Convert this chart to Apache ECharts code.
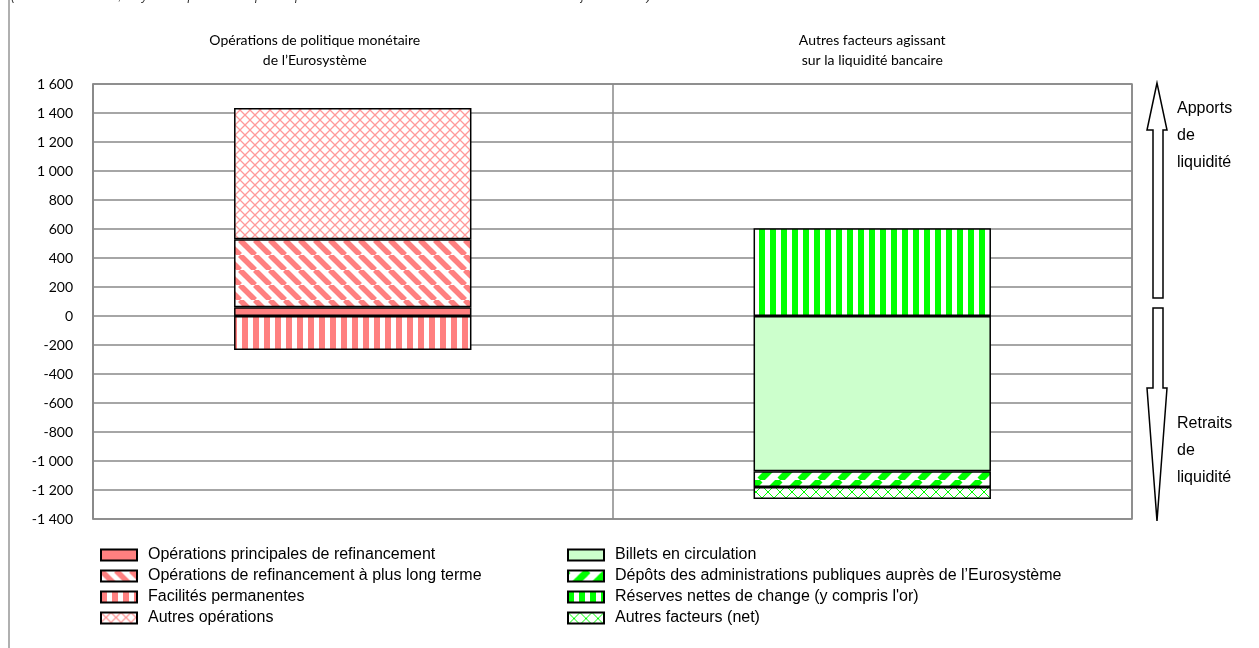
<!DOCTYPE html>
<html>
<head>
<meta charset="utf-8">
<script src="https://cdn.jsdelivr.net/npm/echarts@6/dist/echarts.min.js"></script>
<style>
  html, body { margin: 0; padding: 0; background: #fff; }
  #chart { width: 1259px; height: 648px; }
</style>
</head>
<body>
<div id="chart"></div>
<script>
// categories (top labels)
const categories = [
  'Opérations de politique monétaire\nde l\u2019Eurosystème',
  'Autres facteurs agissant\nsur la liquidité bancaire'
]
const yTicks = { min: -1400, max: 1600, interval: 200 }

// values in EUR bn ('-' = no bar in that column)
const mro = [60, '-']           // Opérations principales de refinancement
const ltro = [470, '-']         // Opérations de refinancement à plus long terme
const standing = [-235, '-']    // Facilités permanentes
const otherOps = [905, '-']     // Autres opérations
const banknotes = ['-', -1070]  // Billets en circulation
const govDeposits = ['-', -110] // Dépôts des administrations publiques
const fxReserves = ['-', 605]   // Réserves nettes de change
const otherFactors = ['-', -82] // Autres facteurs (net)

const RED = '#ff8080'
const GREEN = '#00ff00'

function pattern(w, h, draw) {
  const c = document.createElement('canvas')
  c.width = w
  c.height = h
  const ctx = c.getContext('2d')
  ctx.fillStyle = '#fff'
  ctx.fillRect(0, 0, w, h)
  draw(ctx, w, h)
  return { image: c, repeat: 'repeat' }
}
function vstripes(color, p, t) {
  return pattern(p, p, (ctx, w, h) => { ctx.fillStyle = color; ctx.fillRect(0, 0, t, h) })
}
function diag(color, p, t, down) {
  return pattern(p, p, (ctx) => {
    ctx.strokeStyle = color
    ctx.lineWidth = t
    for (let k = -1; k <= 1; k++) {
      ctx.beginPath()
      if (down) { ctx.moveTo(k * p, 0); ctx.lineTo(k * p + p, p) }
      else { ctx.moveTo(k * p + p, 0); ctx.lineTo(k * p, p) }
      ctx.stroke()
    }
  })
}
function lattice(color, p, lw) {
  return pattern(p, p, (ctx) => {
    ctx.strokeStyle = color
    ctx.lineWidth = lw
    ctx.beginPath()
    ctx.moveTo(0, 0); ctx.lineTo(p, p)
    ctx.moveTo(p, 0); ctx.lineTo(0, p)
    ctx.stroke()
  })
}

const fills = {
  mro: RED,
  ltro: diag(RED, 15, 5.5, true),
  standing: vstripes(RED, 11, 6),
  otherOps: lattice('#ff9a9a', 10, 1.3),
  banknotes: '#ccffcc',
  govDeposits: diag(GREEN, 20, 7, false),
  fxReserves: vstripes(GREEN, 11, 6),
  otherFactors: lattice(GREEN, 12, 1)
}

function bar(name, data, fill) {
  return {
    name, type: 'bar', stack: 'total', data,
    barWidth: '45.7%',
    itemStyle: { color: fill, borderColor: '#000', borderWidth: 1.5 }
  }
}

const chart = echarts.init(document.getElementById('chart'))

const legendBase = {
  orient: 'vertical', top: 547, padding: 0, itemWidth: 36, itemHeight: 11, itemGap: 5,
  icon: 'rect',
  textStyle: { fontFamily: 'Liberation Sans, Arial', fontSize: 16, color: '#000', padding: [0, 0, 0, 6] }
}

chart.setOption({
  animation: false,
  grid: { left: 93, right: 127, top: 84, bottom: 129, show: true, borderColor: '#888', borderWidth: 1.5 },
  xAxis: {
    type: 'category', position: 'top',
    data: [
      { value: categories[0], textStyle: { padding: [0, 76, 0, 0] } },
      categories[1]
    ],
    axisLine: { show: false }, axisTick: { show: false },
    axisLabel: { fontFamily: 'Lato', fontSize: 14, color: '#000', lineHeight: 20, margin: 14 },
    splitLine: { show: true, lineStyle: { color: '#888', width: 1.5 } }
  },
  yAxis: {
    type: 'value', min: yTicks.min, max: yTicks.max, interval: yTicks.interval,
    axisLine: { show: true, lineStyle: { color: '#888', width: 1.5 } },
    axisTick: { show: false },
    axisLabel: {
      fontFamily: 'Lato', fontSize: 14, color: '#000', margin: 20,
      formatter: v => (v < 0 ? '-' : '') + Math.abs(v).toString().replace(/\B(?=(\d{3})+(?!\d))/g, ' ')
    },
    splitLine: { lineStyle: { color: '#888', width: 1.5 } }
  },
  legend: [
    Object.assign({}, legendBase, {
      left: 100,
      data: ['Opérations principales de refinancement', 'Opérations de refinancement à plus long terme', 'Facilités permanentes', 'Autres opérations']
    }),
    Object.assign({}, legendBase, {
      left: 567,
      data: ['Billets en circulation', 'Dépôts des administrations publiques auprès de l\u2019Eurosystème', 'Réserves nettes de change (y compris l\'or)', 'Autres facteurs (net)']
    })
  ],
  series: [
    bar('Opérations principales de refinancement', mro, fills.mro),
    bar('Opérations de refinancement à plus long terme', ltro, fills.ltro),
    bar('Facilités permanentes', standing, fills.standing),
    bar('Autres opérations', otherOps, fills.otherOps),
    bar('Billets en circulation', banknotes, fills.banknotes),
    bar('Dépôts des administrations publiques auprès de l\u2019Eurosystème', govDeposits, fills.govDeposits),
    bar('Réserves nettes de change (y compris l\'or)', fxReserves, fills.fxReserves),
    bar('Autres facteurs (net)', otherFactors, fills.otherFactors)
  ],
  graphic: [
    // frame line on the left edge
    { type: 'line', shape: { x1: 9, y1: 0, x2: 9, y2: 648 }, style: { stroke: '#b0b0b0', lineWidth: 2 } },
    // clipped subtitle at the very top
    {
      type: 'text', left: 11, top: -9,
      style: {
        text: '(en milliards d\u2019euros, moyennes quotidiennes pour la période de constitution des réserves s\u2019achevant le 17 janvier 2012)',
        font: 'italic 12px "Liberation Sans", Arial', fill: '#333'
      }
    },
    // liquidity arrows
    {
      type: 'polygon',
      shape: { points: [[1157, 83], [1147, 130], [1153, 130], [1153, 298], [1163, 298], [1163, 130], [1167, 130]] },
      style: { fill: '#fff', stroke: '#000', lineWidth: 1.5 }
    },
    {
      type: 'polygon',
      shape: { points: [[1153, 308], [1163, 308], [1163, 388], [1167, 388], [1157, 521], [1147, 388], [1153, 388]] },
      style: { fill: '#fff', stroke: '#000', lineWidth: 1.5 }
    },
    {
      type: 'text', left: 1177, top: 95,
      style: { text: 'Apports\nde\nliquidité', font: '16px "Liberation Sans", Arial', fill: '#000', lineHeight: 27 }
    },
    {
      type: 'text', left: 1177, top: 410,
      style: { text: 'Retraits\nde\nliquidité', font: '16px "Liberation Sans", Arial', fill: '#000', lineHeight: 27 }
    }
  ]
})
</script>
</body>
</html>
